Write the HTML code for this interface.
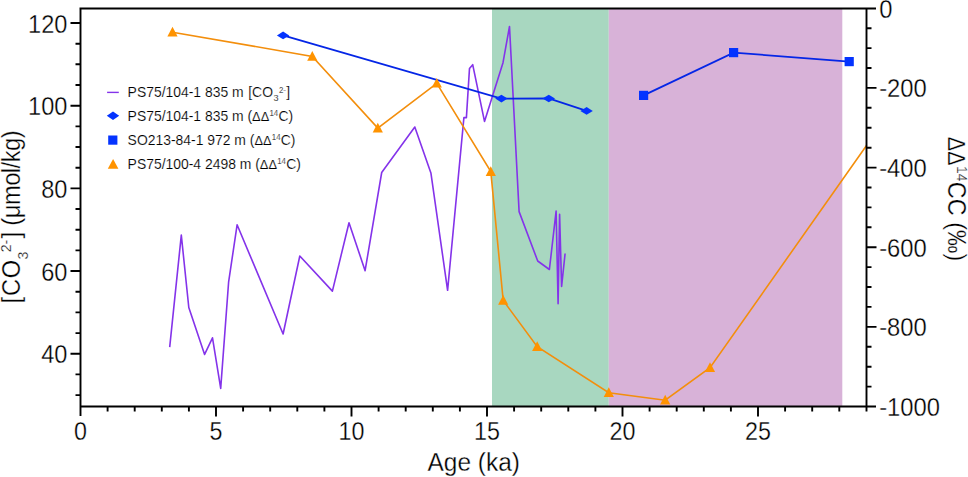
<!DOCTYPE html>
<html><head><meta charset="utf-8"><style>
html,body{margin:0;padding:0;background:#fff;}
svg{display:block;}
</style></head><body>
<svg width="968" height="477" viewBox="0 0 968 477">
<rect x="492" y="8.5" width="116.8" height="398.0" fill="#a8d7c0"/>
<rect x="608.8" y="8.5" width="233.5" height="398.0" fill="#d8b2d8"/>
<polyline points="169.7,347.2 181.3,235.1 188.8,307.5 204.6,354.4 212.5,337.8 220.7,388.4 228.6,282.2 237.1,224.8 283.1,334.0 299.8,256.0 332.4,291.1 349.0,222.7 365.1,270.7 381.7,172.5 414.8,127.0 430.9,172.9 447.6,290.3 463.9,117.6 466.4,117.6 469.5,68.4 472.7,64.7 484.5,121.4 503.0,62.7 509.5,26.5 519.1,211.6 537.7,261.0 549.4,269.5 556.1,211.1 558.1,303.8 559.6,214.3 561.6,286.5 565.1,253.5" fill="none" stroke="#8433ea" stroke-width="1.6" stroke-linejoin="round"/>
<polyline points="283.1,35.4 501.4,98.6 548.8,98.5 586.6,110.9" fill="none" stroke="#0526e6" stroke-width="1.8"/>
<polyline points="643.6,95.4 733.6,52.6 849.2,61.6" fill="none" stroke="#0526e6" stroke-width="1.8"/>
<polyline points="172.5,32.2 312.3,56.4 377.8,128.1 436.8,83.3 490.8,171.6 503.2,300.5 537.2,346.7 608.8,392.7 665.2,400.2 710.0,367.7 866.7,145.2" fill="none" stroke="#f38e0c" stroke-width="1.6"/>
<path d="M172.5 26.8L177.6 36.5L167.4 36.5Z" fill="#ff9300"/>
<path d="M312.3 51.0L317.4 60.7L307.2 60.7Z" fill="#ff9300"/>
<path d="M377.8 122.7L382.9 132.4L372.7 132.4Z" fill="#ff9300"/>
<path d="M436.8 77.9L441.9 87.6L431.7 87.6Z" fill="#ff9300"/>
<path d="M490.8 166.2L495.9 175.9L485.7 175.9Z" fill="#ff9300"/>
<path d="M503.2 295.1L508.3 304.8L498.1 304.8Z" fill="#ff9300"/>
<path d="M537.2 341.3L542.3 351.0L532.1 351.0Z" fill="#ff9300"/>
<path d="M608.8 387.3L613.9 397.0L603.7 397.0Z" fill="#ff9300"/>
<path d="M665.2 394.8L670.3 404.5L660.1 404.5Z" fill="#ff9300"/>
<path d="M710.0 362.3L715.1 372.0L704.9 372.0Z" fill="#ff9300"/>
<path d="M276.9 35.4L283.1 31.6L289.3 35.4L283.1 39.2Z" fill="#0433ff"/>
<path d="M495.2 98.6L501.4 94.8L507.6 98.6L501.4 102.4Z" fill="#0433ff"/>
<path d="M542.5 98.5L548.8 94.7L555.0 98.5L548.8 102.3Z" fill="#0433ff"/>
<path d="M580.4 110.9L586.6 107.1L592.8 110.9L586.6 114.7Z" fill="#0433ff"/>
<rect x="639.0" y="90.8" width="9.2" height="9.2" fill="#0433ff"/>
<rect x="729.0" y="48.0" width="9.2" height="9.2" fill="#0433ff"/>
<rect x="844.6" y="57.0" width="9.2" height="9.2" fill="#0433ff"/>
<path d="M80.5 7.5V416 M79.5 8.5H876 M866.5 8.5V411.5 M80.5 406.5H876 M107.6 406.5v5 M134.7 406.5v5 M161.8 406.5v5 M188.9 406.5v5 M216.0 406.5v10 M243.1 406.5v5 M270.2 406.5v5 M297.3 406.5v5 M324.4 406.5v5 M351.5 406.5v10 M378.6 406.5v5 M405.7 406.5v5 M432.8 406.5v5 M459.9 406.5v5 M487.0 406.5v10 M514.1 406.5v5 M541.2 406.5v5 M568.3 406.5v5 M595.4 406.5v5 M622.5 406.5v10 M649.6 406.5v5 M676.7 406.5v5 M703.8 406.5v5 M730.9 406.5v5 M758.0 406.5v10 M785.1 406.5v5 M812.2 406.5v5 M839.3 406.5v5 M80.5 395.1h-5 M80.5 374.4h-5 M80.5 353.7h-10 M80.5 333.1h-5 M80.5 312.4h-5 M80.5 291.7h-5 M80.5 271.0h-10 M80.5 250.4h-5 M80.5 229.7h-5 M80.5 209.0h-5 M80.5 188.4h-10 M80.5 167.7h-5 M80.5 147.0h-5 M80.5 126.4h-5 M80.5 105.7h-10 M80.5 85.0h-5 M80.5 64.3h-5 M80.5 43.7h-5 M80.5 23.0h-10 M866.5 386.6h5 M866.5 366.7h5 M866.5 346.8h5 M866.5 326.9h10 M866.5 306.9h5 M866.5 287.0h5 M866.5 267.1h5 M866.5 247.2h10 M866.5 227.3h5 M866.5 207.4h5 M866.5 187.5h5 M866.5 167.6h10 M866.5 147.7h5 M866.5 127.8h5 M866.5 107.8h5 M866.5 87.9h10 M866.5 68.0h5 M866.5 48.1h5 M866.5 28.2h5" stroke="#000" stroke-width="1.9" fill="none"/>
<g font-family="Liberation Sans, sans-serif" fill="#000" stroke="#fff" stroke-width="0.3"><text transform="translate(67.40,363.22) scale(0.966,1.045)" font-size="24.4" text-anchor="end">40</text><text transform="translate(67.40,280.54) scale(0.966,1.045)" font-size="24.4" text-anchor="end">60</text><text transform="translate(67.40,197.86) scale(0.966,1.045)" font-size="24.4" text-anchor="end">80</text><text transform="translate(67.40,115.18) scale(0.966,1.045)" font-size="24.4" text-anchor="end">100</text><text transform="translate(67.40,32.50) scale(0.966,1.045)" font-size="24.4" text-anchor="end">120</text><text transform="translate(80.50,440.10) scale(0.955,1.045)" font-size="24.4" text-anchor="middle">0</text><text transform="translate(216.00,440.10) scale(0.955,1.045)" font-size="24.4" text-anchor="middle">5</text><text transform="translate(351.50,440.10) scale(0.955,1.045)" font-size="24.4" text-anchor="middle">10</text><text transform="translate(487.00,440.10) scale(0.955,1.045)" font-size="24.4" text-anchor="middle">15</text><text transform="translate(622.50,440.10) scale(0.955,1.045)" font-size="24.4" text-anchor="middle">20</text><text transform="translate(758.00,440.10) scale(0.955,1.045)" font-size="24.4" text-anchor="middle">25</text><text transform="translate(879.20,17.60) scale(0.975,1.045)" font-size="24.4">0</text><text transform="translate(879.20,97.24) scale(0.975,1.045)" font-size="24.4">-200</text><text transform="translate(879.20,176.88) scale(0.975,1.045)" font-size="24.4">-400</text><text transform="translate(879.20,256.52) scale(0.975,1.045)" font-size="24.4">-600</text><text transform="translate(879.20,336.16) scale(0.975,1.045)" font-size="24.4">-800</text><text transform="translate(879.20,415.80) scale(0.975,1.045)" font-size="24.4">-1000</text><text transform="translate(473.70,470.50) scale(0.965,1)" font-size="25.3" text-anchor="middle">Age (ka)</text><text transform="translate(19.90,305.00) rotate(-90) scale(0.94,1)" font-size="25.2"><tspan dx="1.6">[</tspan><tspan dx="1">C</tspan><tspan dx="0.6">O</tspan><tspan font-size="15" dx="0.3" dy="8">3</tspan><tspan font-size="15" dx="-0.5" dy="-16.5">2-</tspan><tspan dx="1.4" dy="8.5">]</tspan><tspan letter-spacing="-0.5"> (μmol/kg)</tspan></text><text transform="translate(948.30,136.80) rotate(90) scale(0.93,1)" font-size="25.2"><tspan font-size="23.2">ΔΔ</tspan><tspan font-size="15" dx="0.3" dy="-9">14</tspan><tspan dx="0.5" dy="9">CC (‰)</tspan></text></g>
<path d="M107.1 92.4H118.8" stroke="#8433ea" stroke-width="1.4"/>
<path d="M106.8 115.8L113.0 111.6L119.2 115.8L113.0 120.0Z" fill="#0433ff"/>
<rect x="108.2" y="135.5" width="9.2" height="9.2" fill="#0433ff"/>
<path d="M113.1 158.9L118.4 168.8L107.8 168.8Z" fill="#ff9300"/>
<g font-family="Liberation Sans, sans-serif" fill="#000" stroke="#fff" stroke-width="0.15"><text transform="translate(127.60,96.90) scale(0.96,1)" font-size="14.5">PS75/104-1 835 m <tspan dx="0.8">[CO</tspan><tspan font-size="9.5" dx="0.6" dy="4.4">3</tspan><tspan font-size="8.2" dx="0.4" dy="-8.6">2-</tspan><tspan dx="0.2" dy="4.2">]</tspan></text><text transform="translate(127.60,121.10) scale(0.96,1)" font-size="14.5">PS75/104-1 835 m (<tspan font-size="13.4">ΔΔ</tspan><tspan font-size="8.2" dx="0.2" dy="-5">14</tspan><tspan dx="0.2" dy="5">C)</tspan></text><text transform="translate(127.60,144.90) scale(0.96,1)" font-size="14.5">SO213-84-1 972 m (<tspan font-size="13.4">ΔΔ</tspan><tspan font-size="8.2" dx="0.2" dy="-5">14</tspan><tspan dx="0.2" dy="5">C)</tspan></text><text transform="translate(127.60,168.80) scale(0.96,1)" font-size="14.5">PS75/100-4 2498 m (<tspan font-size="13.4">ΔΔ</tspan><tspan font-size="8.2" dx="0.2" dy="-5">14</tspan><tspan dx="0.2" dy="5">C)</tspan></text></g>
</svg>
</body></html>
